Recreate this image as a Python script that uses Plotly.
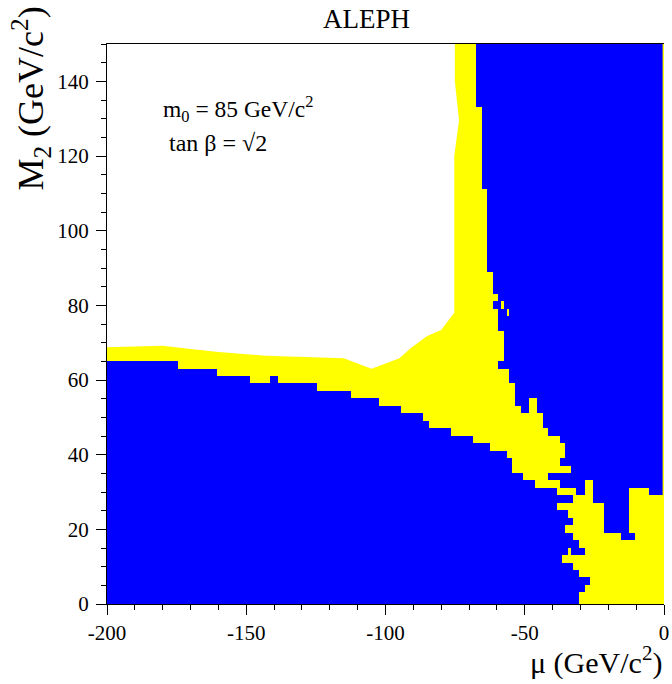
import numpy as np
import plotly.graph_objects as go

# ---------------- data ----------------
ROW_Y = list(range(0, 152, 2))          # grid rows in M2 (GeV/c^2), cell height 2
X_CELLS = list(range(-200, 0))          # grid columns in mu (GeV/c^2), cell width 1

# lower-left excluded (blue) region: last blue column of each row
LOW_ROWS = list(range(0, 66, 2))
LOW_END = [-31, -31, -29, -27, -31, -33, -37, -35, -31, -33, -36, -33, -35,
           -39, -33, -39, -47, -51, -55, -55, -57, -63, -69, -77, -85, -87,
           -95, -103, -113, -125, -149, -161, -175]

# right excluded (blue) region: first and last blue column of each row
RIGHT_ROWS = list(range(18, 152, 2))
RIGHT_START = ([-15, -21, -21, -21, -21, -25, -31, -37, -41, -33, -37, -35,
                -35, -37, -41, -43, -43, -51, -53, -53, -53, -55, -55, -59,
                -57, -57, -57, -57, -59, -59, -59, -61, -59, -61, -61, -61]
               + [-63] * 11 + [-65] * 11 + [-67] * 9)
RIGHT_STOP = [-11, -13, -13, -13, -13, -13] + [-1] * 61

# extra blue runs (row, from, to) and yellow holes inside blue (row, from, to)
EXTRA_BLUE = [(14, -33, -29), (60, -141, -139)]
HOLES = [(80, -58, -58), (78, -56, -56), (54, -48, -46), (52, -48, -46),
         (32, -28, -26), (30, -28, -26), (30, -12, -6)]

# upper edge of the allowed (yellow) region
BOUND_X = [-200, -180, -170, -160, -143, -115, -105, -100, -95, -91, -85,
           -80, -75.3, -75.3, -73.6, -75.1, -75.1]
BOUND_Y = [68.8, 69.2, 68.3, 67.5, 66.5, 65.8, 63.0, 64.5, 65.8, 68.5, 71.8,
           73.4, 78, 120, 129.6, 140, 150]

X_TICKS = [-200, -150, -100, -50, 0]
X_TICK_TEXT = ["-200", "-150", "-100", "-50", "0"]
Y_TICKS = [0, 20, 40, 60, 80, 100, 120, 140]
Y_TICK_TEXT = ["0", "20", "40", "60", "80", "100", "120", "140"]

BLUE = "#0000ff"
YELLOW = "#ffff00"
FONT = "Liberation Serif"

# ---------------- build the grid ----------------
z = np.full((len(ROW_Y), len(X_CELLS)), np.nan)
xi = {x: i for i, x in enumerate(X_CELLS)}
yi = {y: j for j, y in enumerate(ROW_Y)}


def paint(row, a, b, val):
    z[yi[row], xi[a]:xi[b] + 1] = val


for r, e in zip(LOW_ROWS, LOW_END):
    paint(r, -200, e, 1)
for r, s, t in zip(RIGHT_ROWS, RIGHT_START, RIGHT_STOP):
    paint(r, s, t, 1)
for r, a, b in EXTRA_BLUE:
    paint(r, a, b, 1)
for r, a, b in HOLES:
    paint(r, a, b, np.nan)

# yellow allowed region: below / right of the boundary curve
poly_x = BOUND_X + [0, 0, -200]
poly_y = BOUND_Y + [150, 0, 0]

fig = go.Figure()
fig.add_trace(go.Scatter(x=poly_x, y=poly_y, fill="toself", fillcolor=YELLOW,
                         mode="lines", line=dict(width=0, color=YELLOW),
                         hoverinfo="skip", showlegend=False))
fig.add_trace(go.Heatmap(x=X_CELLS, y=ROW_Y, z=z, xaxis="x2", yaxis="y2",
                         colorscale=[[0, BLUE], [1, BLUE]], zmin=0, zmax=1,
                         showscale=False, hoverinfo="skip", zsmooth=False))

axis_common = dict(showgrid=False, zeroline=False, showline=True,
                   linecolor="black", linewidth=1, ticks="outside",
                   ticklen=10, tickwidth=1, tickcolor="black",
                   ticklabeloverflow="allow",
                   tickfont=dict(family=FONT, size=21, color="black"))

fig.update_layout(
    width=672, height=684,
    margin=dict(l=107, r=3, t=44, b=80),
    paper_bgcolor="white", plot_bgcolor="white",
    showlegend=False,
    xaxis=dict(range=[-200, 0], tickvals=X_TICKS, ticktext=X_TICK_TEXT,
               mirror=True,
               minor=dict(dtick=10, tick0=0, ticklen=5, ticks="outside",
                          tickcolor="black"),
               **axis_common),
    yaxis=dict(range=[0, 150], tickvals=Y_TICKS, ticktext=Y_TICK_TEXT,
               ticklabelstandoff=3,
               minor=dict(dtick=5, tick0=0, ticklen=5, ticks="outside",
                          tickcolor="black"),
               **axis_common),
    xaxis2=dict(range=[-200, 0], overlaying="x", visible=False),
    yaxis2=dict(range=[0, 150], overlaying="y", visible=False),
    annotations=[
        dict(text="ALEPH", xref="paper", yref="paper", x=0.466, y=1.044,
             xanchor="center", yanchor="middle", showarrow=False,
             font=dict(family=FONT, size=27, color="black")),
        dict(text="m<sub>0</sub> = 85 GeV/c<sup>2</sup>", xref="x", yref="y",
             x=-180.5, y=132.5, xanchor="left", yanchor="middle",
             showarrow=False, font=dict(family=FONT, size=23.5, color="black")),
        dict(text="tan β = √2", xref="x", yref="y",
             x=-178.5, y=123.5, xanchor="left", yanchor="middle",
             showarrow=False, font=dict(family=FONT, size=24, color="black")),
        dict(text="μ (GeV/c<sup>2</sup>)", xref="paper", yref="paper",
             x=1.0, y=-0.10, xanchor="right", yanchor="middle",
             showarrow=False, font=dict(family=FONT, size=30, color="black")),
        dict(text="M<sub>2</sub> (GeV/c<sup>2</sup>)", xref="paper",
             yref="paper", x=-0.137, y=1.07, xanchor="center", yanchor="top",
             textangle=-90, showarrow=False,
             font=dict(family=FONT, size=36, color="black")),
    ],
)

fig.write_html("out.html", config={"displayModeBar": False},
               post_script="document.body.style.margin='0';")
